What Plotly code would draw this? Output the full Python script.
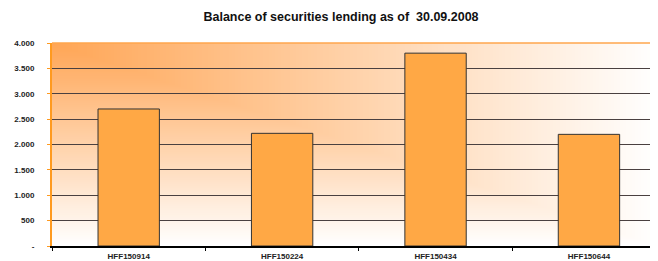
import base64, struct, zlib
import plotly.graph_objects as go

categories = ["HFF150914", "HFF150224", "HFF150434", "HFF150644"]
values = [2700, 2220, 3800, 2200]
y_tickvals = [0, 500, 1000, 1500, 2000, 2500, 3000, 3500, 4000]
y_ticktext = ["-", "500", "1.000", "1.500", "2.000", "2.500", "3.000", "3.500", "4.000"]
title_text = "Balance of securities lending as of \u00a030.09.2008"

OFF = 8  # page body margin
W, H = 658 - OFF, 261 - OFF


def gradient_png(w, h, c0, c1):
    rows = bytearray()
    for j in range(h):
        rows.append(0)
        v = j / (h - 1)
        for i in range(w):
            u = i / (w - 1)
            t = max(u, v)
            for k in range(3):
                rows.append(int(round(c0[k] + (c1[k] - c0[k]) * t)))
    def chunk(tag, data):
        c = struct.pack(">I", len(data)) + tag + data
        return c + struct.pack(">I", zlib.crc32(tag + data) & 0xFFFFFFFF)
    png = b"\x89PNG\r\n\x1a\n"
    png += chunk(b"IHDR", struct.pack(">IIBBBBB", w, h, 8, 2, 0, 0, 0))
    png += chunk(b"IDAT", zlib.compress(bytes(rows), 9))
    png += chunk(b"IEND", b"")
    return "data:image/png;base64," + base64.b64encode(png).decode()


bg = gradient_png(200, 100, (255, 166, 86), (255, 255, 255))

fig = go.Figure()
fig.add_trace(go.Bar(
    x=categories, y=values, width=0.4,
    marker=dict(color="#FFA845", line=dict(color="#333333", width=1)),
    hoverinfo="skip",
))

fig.add_layout_image(dict(
    source=bg, xref="paper", yref="paper", x=0, y=1, sizex=1, sizey=1,
    xanchor="left", yanchor="top", sizing="stretch", layer="below",
))
fig.add_shape(type="line", xref="paper", yref="paper", x0=0, x1=1, y0=1, y1=1,
              line=dict(color="#FFA64D", width=1.5), layer="above")

fig.update_layout(
    width=W, height=H,
    margin=dict(l=52 - OFF, r=0, t=43 - OFF, b=261 - 246, autoexpand=False),
    paper_bgcolor="white", plot_bgcolor="rgba(0,0,0,0)",
    showlegend=False,
    font=dict(family="Liberation Sans, Arial, sans-serif", color="#222222"),
    title=dict(text="<b>" + title_text + "</b>", font=dict(size=12.5, color="#111111"),
               xref="container", yref="container", x=(341 - OFF) / W, y=1 - (17 - OFF) / H,
               xanchor="center", yanchor="middle", automargin=False),
    xaxis=dict(
        type="category", range=[-0.5, 3.45], tickson="boundaries",
        ticks="outside", ticklen=3, tickcolor="#000000", tickwidth=1,
        showline=True, linecolor="#000000", linewidth=2,
        showgrid=False, tickfont=dict(size=8), ticklabelstandoff=1,
        tickprefix="<b>", ticksuffix="</b>", automargin=False,
    ),
    yaxis=dict(
        range=[0, 4000], tickvals=y_tickvals, ticktext=["<b>" + t + "</b>" for t in y_ticktext],
        ticks="outside", ticklen=3, tickcolor="#FF9A1F", tickwidth=1,
        showline=True, linecolor="#FF9A1F", linewidth=2,
        showgrid=True, gridcolor="#4a4040", gridwidth=1,
        zeroline=False, tickfont=dict(size=8), ticklabelstandoff=11,
        automargin=False,
    ),
)

fig.write_html("out.html")
